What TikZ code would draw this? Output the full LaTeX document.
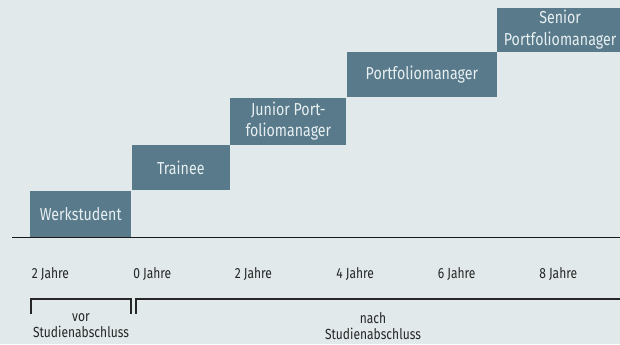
\documentclass[tikz,border=0pt]{standalone}
\usepackage{fontspec}
\setmainfont{Fira Sans}[FakeStretch=0.82]
\usetikzlibrary{positioning}

\definecolor{hinter}{HTML}{E1E9EB}
\definecolor{stufeblau}{HTML}{587A8B}
\definecolor{hell}{HTML}{E8EFF1}

\tikzset{
  stufe/.style={fill=stufeblau, text=hell, inner sep=0pt, align=center,
    anchor=south west, font=\fontsize{13}{16}\selectfont},
  jahr/.style={anchor=west, inner sep=0pt, text=black!85,
    font=\fontsize{11}{12}\selectfont},
  phase/.style={align=center, inner sep=0pt, text=black!85,
    font=\fontsize{11}{12}\selectfont},
  klammer/.style={line width=0.9pt, black!85},
}

\begin{document}
\begin{tikzpicture}[x=0.75pt, y=-0.75pt]
    \fill[hinter] (0,0) rectangle (620,344);
    \useasboundingbox (0,0) rectangle (620,344);

    % Karrierestufen
    \node[stufe, minimum width=75.75pt, minimum height=34.5pt] (werk) at (30,237) {Werkstudent};
    \node[stufe, minimum width=73.5pt, minimum height=33.75pt] (trainee) at (werk.north east) {Trainee};
    \node[stufe, minimum width=87pt, minimum height=35.25pt] (junior) at (trainee.north east) {Junior Port-\\foliomanager};
    \node[stufe, minimum width=112.5pt, minimum height=33.75pt] (pm) at (junior.north east) {Portfoliomanager};
    \node[stufe, minimum width=94pt, minimum height=33pt] (senior) at (pm.north east) {Senior\\Portfoliomanager};

    % Achse
    \coordinate (achseA) at (12,237.5);
    \coordinate (achseB) at (620,237.5);
    \draw[line width=1.1pt, black!90] (achseA) -- (achseB);

    % Jahre
    \foreach \i/\t in {0/2, 1/0, 2/2, 3/4, 4/6, 5/8}
        \node[jahr] (j\i) at ({31.5+101.5*\i},274) {\t\ Jahre};

    % Klammern
    \coordinate (vorA) at (31,314);
    \coordinate (vorB) at (131,314);
    \coordinate (nachA) at (136,314);
    \coordinate (nachB) at (621,299);
    \draw[klammer] (vorA) -- ++(0,-15) -| (vorB);
    \draw[klammer] (nachA) |- (nachB);

    \node[phase] (vor) at (81,326) {vor\\Studienabschluss};
    \node[phase] (nach) at (373,326) {nach\\Studienabschluss};

\end{tikzpicture}
\end{document}
